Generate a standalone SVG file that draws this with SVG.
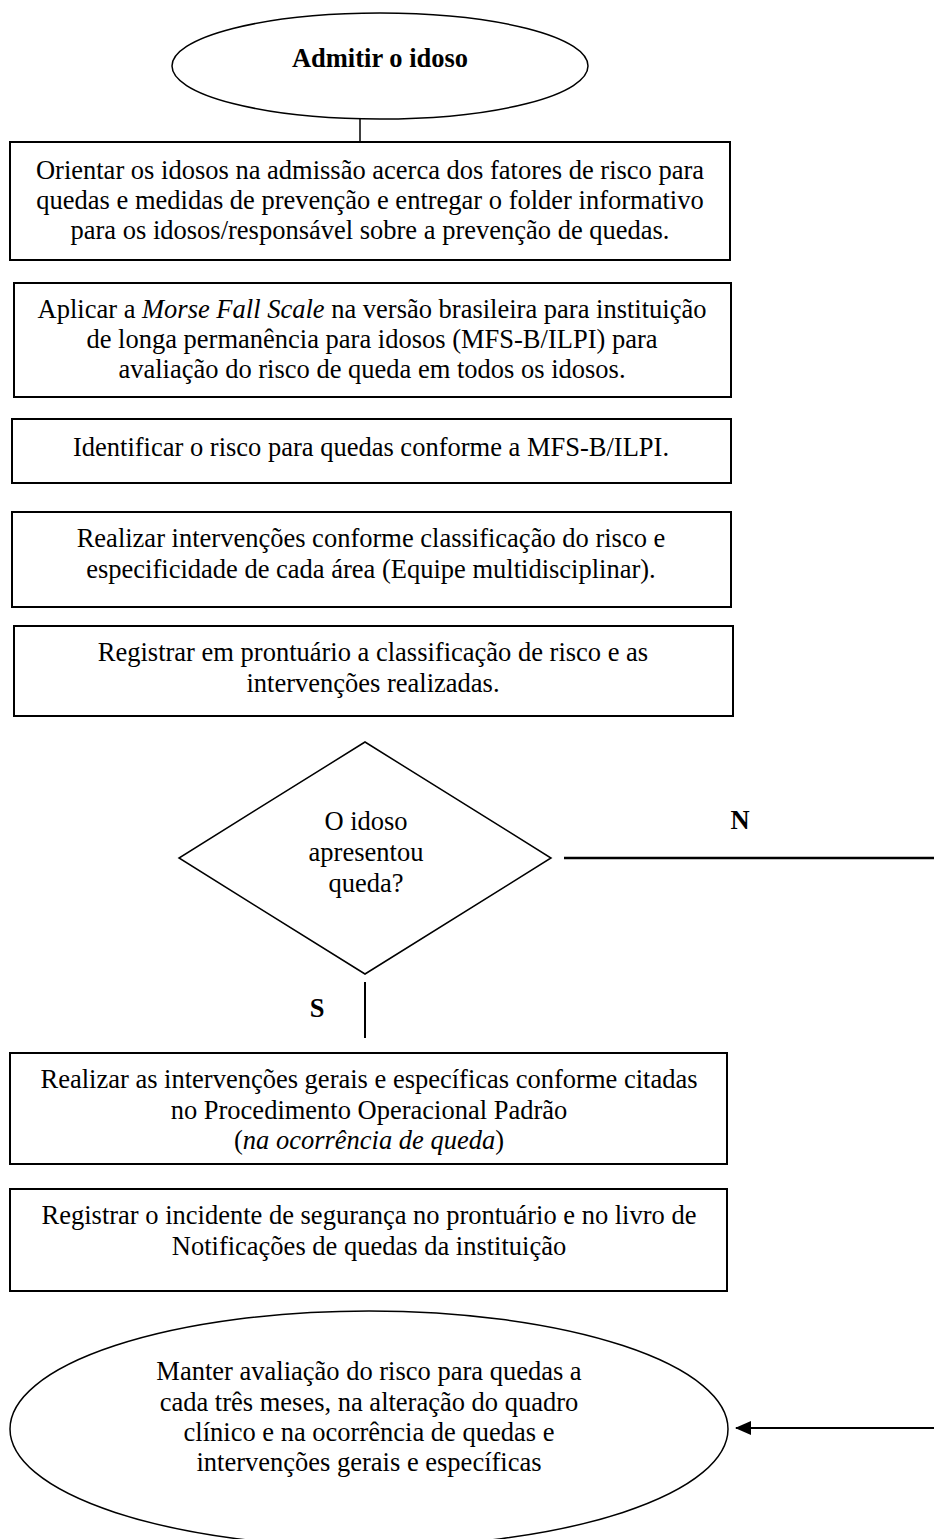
<svg xmlns="http://www.w3.org/2000/svg" width="934" height="1539" viewBox="0 0 934 1539">
<style>
text{font-family:"Liberation Serif","Times New Roman",serif;font-size:26.5px;fill:#000;text-anchor:middle}
.b{font-weight:bold}
.box{fill:#fff;stroke:#000;stroke-width:2}
.shape{fill:#fff;stroke:#000;stroke-width:1.5}
.ln{fill:none;stroke:#000}
</style>
<defs>
<marker id="ah" markerWidth="16" markerHeight="14" refX="15" refY="7" orient="auto" markerUnits="userSpaceOnUse">
<path d="M0,0 L16,7 L0,14 Z" fill="#000"/>
</marker>
</defs>
<g id="connectors">
<line class="ln" x1="360" y1="118" x2="360" y2="142" stroke-width="1.5"/>
<line class="ln" x1="564" y1="858" x2="934" y2="858" stroke-width="2.5"/>
<line class="ln" x1="365" y1="982" x2="365" y2="1038" stroke-width="2"/>
<line class="ln" x1="934" y1="1428" x2="736" y2="1428" stroke-width="2.2" marker-end="url(#ah)"/>
<text class="b" x="740" y="829">N</text>
<text class="b" x="317" y="1017">S</text>
</g>
<g id="n_admitir">
<ellipse class="shape" cx="380" cy="66" rx="208" ry="53"/>
<text class="b" x="380" y="67">Admitir o idoso</text>
</g>
<g id="n_orientar">
<rect class="box" x="10" y="142" width="720" height="118"/>
<text x="370" y="179">Orientar os idosos na admissão acerca dos fatores de risco para</text>
<text x="370" y="209">quedas e medidas de prevenção e entregar o folder informativo</text>
<text x="370" y="239">para os idosos/responsável sobre a prevenção de quedas.</text>
</g>
<g id="n_aplicar">
<rect class="box" x="14" y="283" width="717" height="114"/>
<text x="372" y="318">Aplicar a <tspan font-style="italic">Morse Fall Scale</tspan> na versão brasileira para instituição</text>
<text x="372" y="348">de longa permanência para idosos (MFS-B/ILPI) para</text>
<text x="372" y="378">avaliação do risco de queda em todos os idosos.</text>
</g>
<g id="n_identificar">
<rect class="box" x="12" y="419" width="719" height="64"/>
<text x="371" y="456">Identificar o risco para quedas conforme a MFS-B/ILPI.</text>
</g>
<g id="n_realizar">
<rect class="box" x="12" y="512" width="719" height="95"/>
<text x="371" y="547">Realizar intervenções conforme classificação do risco e</text>
<text x="371" y="578">especificidade de cada área (Equipe multidisciplinar).</text>
</g>
<g id="n_registrar">
<rect class="box" x="14" y="626" width="719" height="90"/>
<text x="373" y="661">Registrar em prontuário a classificação de risco e as</text>
<text x="373" y="692">intervenções realizadas.</text>
</g>
<g id="n_decisao">
<polygon class="shape" points="365,742 551,858 365,974 179,858"/>
<text x="366" y="830">O idoso</text>
<text x="366" y="861">apresentou</text>
<text x="366" y="892">queda?</text>
</g>
<g id="n_intervencoes">
<rect class="box" x="10" y="1053" width="717" height="111"/>
<text x="369" y="1088">Realizar as intervenções gerais e específicas conforme citadas</text>
<text x="369" y="1119">no Procedimento Operacional Padrão</text>
<text x="369" y="1149">(<tspan font-style="italic">na ocorrência de queda</tspan>)</text>
</g>
<g id="n_incidente">
<rect class="box" x="10" y="1189" width="717" height="102"/>
<text x="369" y="1224">Registrar o incidente de segurança no prontuário e no livro de</text>
<text x="369" y="1255">Notificações de quedas da instituição</text>
</g>
<g id="n_manter">
<ellipse class="shape" cx="369" cy="1429" rx="359" ry="118"/>
<text x="369" y="1380">Manter avaliação do risco para quedas a</text>
<text x="369" y="1411">cada três meses, na alteração do quadro</text>
<text x="369" y="1441">clínico e na ocorrência de quedas e</text>
<text x="369" y="1471">intervenções gerais e específicas</text>
</g>
</svg>
